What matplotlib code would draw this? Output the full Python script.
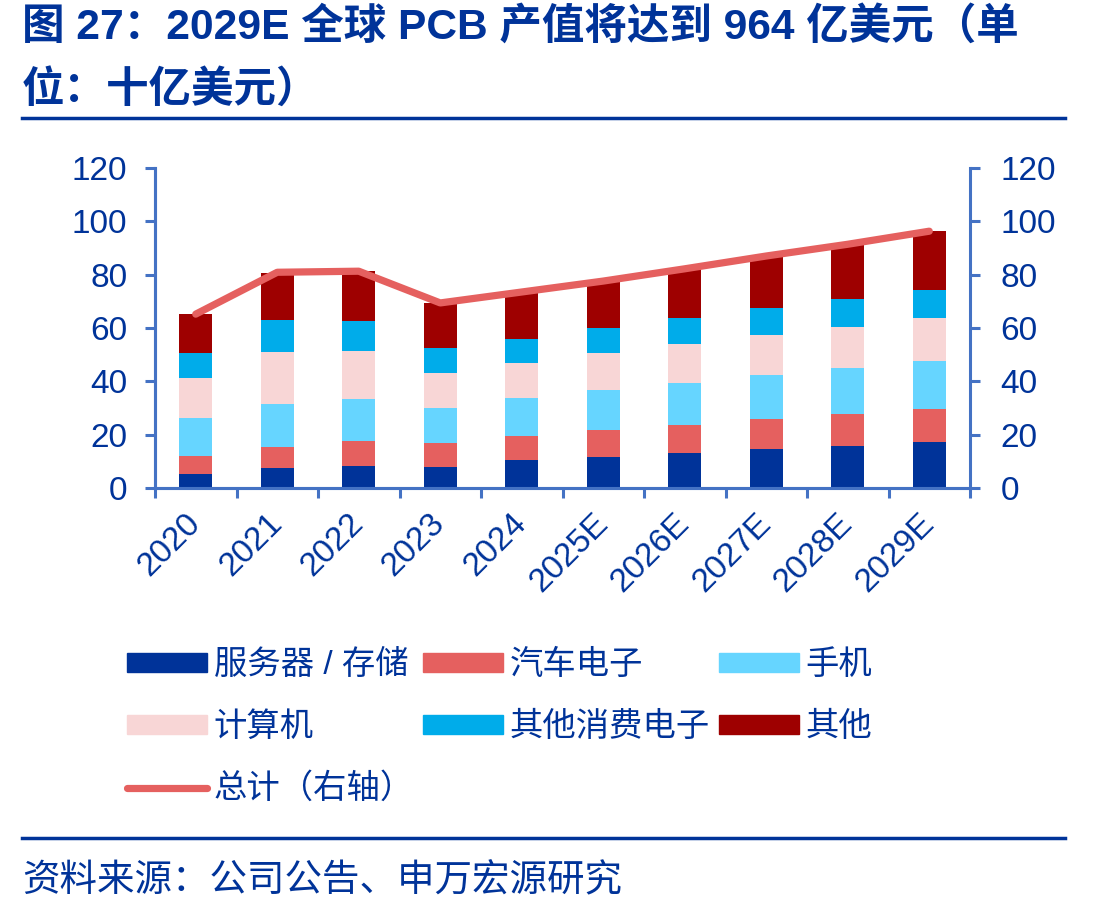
import matplotlib
matplotlib.use('Agg')
import matplotlib.pyplot as plt
import numpy as np
from matplotlib.patches import Patch
from matplotlib.lines import Line2D

plt.rcParams['font.family'] = ['Liberation Sans', 'Noto Sans CJK SC']

years = ['2020', '2021', '2022', '2023', '2024', '2025E', '2026E', '2027E', '2028E', '2029E']
server = [5.4, 7.5, 8.2, 7.9, 10.5, 11.7, 13.2, 14.6, 15.9, 17.3]
auto = [6.6, 8.0, 9.4, 9.0, 9.1, 10.0, 10.4, 11.3, 11.8, 12.3]
phone = [14.4, 16.0, 15.8, 13.2, 14.1, 15.0, 15.9, 16.5, 17.3, 18.0]
pc = [14.8, 19.4, 17.8, 13.1, 13.2, 13.8, 14.5, 15.0, 15.4, 16.0]
consumer = [9.4, 12.0, 11.3, 9.2, 9.0, 9.4, 9.7, 10.1, 10.5, 10.5]
other = [14.5, 17.6, 19.0, 17.1, 17.7, 17.9, 18.6, 19.5, 20.4, 22.3]
total = [65.2, 80.9, 81.3, 69.4, 73.5, 77.6, 82.2, 87.0, 91.4, 96.3]

names = ['服务器 / 存储', '汽车电子', '手机', '计算机', '其他消费电子', '其他']
colors = ['#003399', '#E5605F', '#66D5FF', '#F8D6D6', '#00ACEA', '#9E0000']
line_color = '#E5605F'
blue = '#003399'
spine = '#4472C4'

fig = plt.figure(figsize=(11.11, 9.14), dpi=100)
ax = fig.add_axes([155/1111, 1-488/914, 815/1111, 320/914])
ax2 = ax.twinx()

x = np.arange(len(years))
bottom = np.zeros(len(years))
for vals, c in zip([server, auto, phone, pc, consumer, other], colors):
    ax.bar(x, vals, 0.4, bottom=bottom, color=c, linewidth=0, zorder=2)
    bottom += np.array(vals)

ax2.plot(x, total, color=line_color, linewidth=5.2, solid_capstyle='round', zorder=3)

for a in (ax, ax2):
    a.set_ylim(0, 120)
    a.set_yticks(range(0, 121, 20))
    a.set_xlim(-0.5, 9.5)
    a.spines['top'].set_visible(False)
    for s in ('left', 'right', 'bottom'):
        a.spines[s].set_color(spine)
        a.spines[s].set_linewidth(2.2)
    a.tick_params(axis='y', colors=spine, labelcolor=blue, labelsize=24,
                  length=7, width=2.2, direction='out')
ax.tick_params(axis='y', pad=13)
ax2.tick_params(axis='y', pad=15)
ax.spines['right'].set_visible(False)

ax.set_xticks(x)
ax.set_xticks(np.arange(-0.5, 10, 1), minor=True)
ax.tick_params(axis='x', which='major', length=0, pad=22)
ax.tick_params(axis='x', which='minor', length=7, width=2.2, color=spine, direction='out')
ax.set_xticklabels(years, rotation=45, ha='right', va='center', rotation_mode='anchor',
                   fontsize=24, color=blue)

# title and rules
fig.text(22/1111, 1-27/914, '图 27：2029E 全球 PCB 产值将达到 964 亿美元（单',
         fontsize=30.6, fontweight='bold', color=blue, va='center', ha='left')
fig.text(22/1111, 1-90/914, '位：十亿美元）',
         fontsize=30.6, fontweight='bold', color=blue, va='center', ha='left')
fig.add_artist(Line2D([22/1111, 1065/1111], [1-118/914, 1-118/914], color=blue, linewidth=2.5))
fig.add_artist(Line2D([22/1111, 1065/1111], [1-838/914, 1-838/914], color=blue, linewidth=2.5))
fig.text(22/1111, 1-881/914, '资料来源：公司公告、申万宏源研究',
         fontsize=27, color=blue, va='center', ha='left')

# legend (column-major order for 3 columns)
h = [Patch(color=c) for c in colors]
tot = Line2D([0], [0], color=line_color, linewidth=5.2, solid_capstyle='round')
handles = [h[0], h[3], tot, h[1], h[4], h[2], h[5]]
labels = [names[0], names[3], '总计（右轴）', names[1], names[4], names[2], names[5]]
leg = fig.legend(handles, labels, ncol=3, loc='upper left',
                 bbox_to_anchor=(127/1111, 1-650/914), frameon=False,
                 fontsize=24, handlelength=2.4, handleheight=0.5, handletextpad=0.2,
                 columnspacing=0.27, labelspacing=0.92, borderpad=0, borderaxespad=0)
for t in leg.get_texts():
    t.set_color(blue)

plt.savefig('out.png', dpi=100)
